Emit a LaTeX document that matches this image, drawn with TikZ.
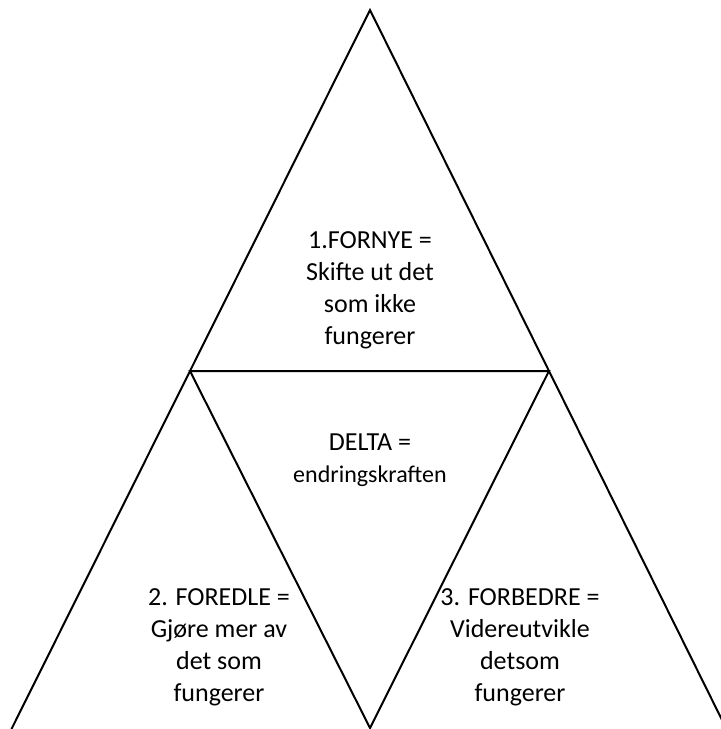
\documentclass[tikz,border=0pt]{standalone}
\usepackage{fontspec}
\setmainfont{Carlito}
\tikzset{
  txt/.style={align=center, anchor=north, inner sep=0pt,
    font=\fontsize{19.5}{24}\selectfont}
}
\begin{document}
\begin{tikzpicture}[x=0.75pt, y=-0.75pt, line width=1.5pt]
  % Canvas
  \useasboundingbox (0,0) rectangle (721,729);
  \clip (0,0) rectangle (721,729);

  % Corners
  \coordinate (A) at (370,10);
  \coordinate (L) at (190,371);
  \coordinate (R) at (549,371);
  \coordinate (B) at (370,728);
  \coordinate (LF) at (11.5,729);
  \coordinate (RF) at (726.5,729);

  % Outer sides
  \draw (LF) -- (A) -- (RF);

  % Inner triangle
  \draw (L) -- (R) -- (B) -- cycle;

  % Texts
  \node[txt] (fornye) at (370,231) {1.FORNYE =\\Skifte ut det\\som ikke\\fungerer};
  \node[txt] (delta) at (370,433) {DELTA =\\{\fontsize{18}{26}\selectfont endringskraften}};
  \node[txt] (foredle) at (219,588) {2. FOREDLE =\\Gjøre mer av\\det som\\fungerer};
  \node[txt] (forbedre) at (520,588) {3. FORBEDRE =\\Videreutvikle\\detsom\\fungerer};
\end{tikzpicture}
\end{document}
